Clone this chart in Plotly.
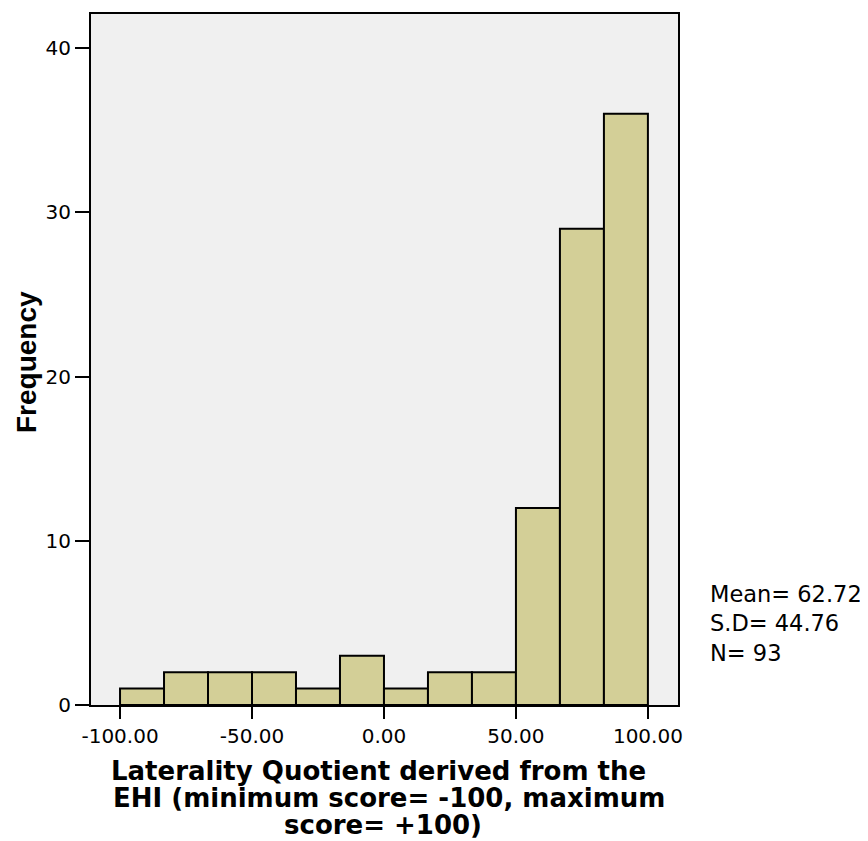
import plotly.graph_objects as go

# Data
bin_start = -100.0
bin_end = 100.0
counts = [1, 2, 2, 2, 1, 3, 1, 2, 2, 12, 29, 36]
x_tick_vals = [-100, -50, 0, 50, 100]
x_tick_text = ["-100.00", "-50.00", "0.00", "50.00", "100.00"]
y_tick_vals = [0, 10, 20, 30, 40]
stats_lines = ["Mean= 62.72", "S.D= 44.76", "N= 93"]
x_title_lines = ["Laterality Quotient derived from the",
                 "EHI (minimum score= -100, maximum",
                 "score= +100)"]
y_title = "Frequency"

n_bins = len(counts)
bw = (bin_end - bin_start) / n_bins
centers = [bin_start + bw * (i + 0.5) for i in range(n_bins)]

# page has an 8px body margin; work in screenshot pixels and subtract it
OFF = 8
W, H = 868 - OFF, 841 - OFF
ml, mt = 91 - OFF, 12 - OFF
pw, ph = 587, 693
mr = W - ml - pw
mb = H - mt - ph

def px_x(p):
    return (p - OFF - ml) / pw

def px_y(p):
    return (mt + ph - (p - OFF)) / ph

fig = go.Figure()
fig.add_trace(go.Bar(
    x=centers, y=counts, width=[bw] * n_bins,
    marker=dict(color="#d3cf97", line=dict(color="black", width=2)),
    hoverinfo="skip",
))

fig.update_layout(
    width=W, height=H,
    margin=dict(l=ml, r=mr, t=mt, b=mb),
    paper_bgcolor="white",
    plot_bgcolor="#f0f0f0",
    showlegend=False,
    font=dict(family="DejaVu Sans", color="black"),
)
fig.update_xaxes(
    range=[-111.0, 111.4], showgrid=False, zeroline=False,
    showline=True, mirror=True, linecolor="black", linewidth=2,
    ticks="outside", ticklen=12, tickwidth=2, tickcolor="black",
    tickvals=x_tick_vals, ticktext=x_tick_text,
    tickfont=dict(family="DejaVu Sans", size=20, color="black"),
)
fig.update_yaxes(
    range=[0, 42.07], showgrid=False, zeroline=False,
    showline=True, mirror=True, linecolor="black", linewidth=2,
    ticks="outside", ticklen=14, tickwidth=2, tickcolor="black",
    tickvals=y_tick_vals,
    tickfont=dict(family="DejaVu Sans", size=20, color="black"),
)

# x-axis title, one annotation per line
line_centers_x = [378, 389, 383]
line_centers_y = [771, 798, 825]
for txt, cx, cy in zip(x_title_lines, line_centers_x, line_centers_y):
    fig.add_annotation(
        text="<b>" + txt + "</b>", xref="paper", yref="paper",
        x=px_x(cx), y=px_y(cy), xanchor="center", yanchor="middle",
        showarrow=False,
        font=dict(family="DejaVu Sans", size=26, color="black"),
    )

# y-axis title
fig.add_annotation(
    text="<b>" + y_title + "</b>", xref="paper", yref="paper",
    x=px_x(27), y=px_y(361), xanchor="center", yanchor="middle",
    textangle=-90, showarrow=False,
    font=dict(family="Liberation Sans", size=28, color="black"),
)

# stats
fig.add_annotation(
    text="<br>".join(stats_lines), xref="paper", yref="paper",
    x=px_x(708), y=px_y(623), xanchor="left", yanchor="middle",
    align="left", showarrow=False,
    font=dict(family="DejaVu Sans", size=22.5, color="black"),
)

fig.write_html("out.html")
